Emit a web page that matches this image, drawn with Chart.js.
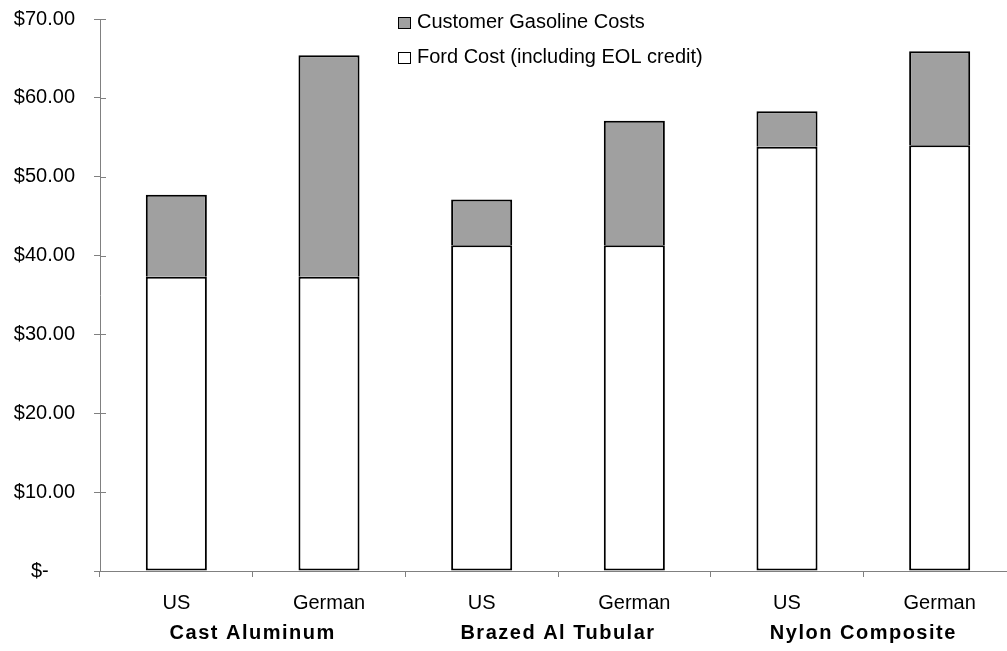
<!DOCTYPE html>
<html>
<head>
<meta charset="utf-8">
<script src="https://cdn.jsdelivr.net/npm/chart.js@4.4.1/dist/chart.umd.min.js"></script>
<style>
  html, body { margin: 0; padding: 0; background: #fff; overflow: hidden; }
  #wrap { position: relative; width: 1020px; height: 651px; }
</style>
</head>
<body>
<div id="wrap"><canvas id="c"></canvas></div>
<script>
// ---- data ----
const categories = ['US', 'German', 'US', 'German', 'US', 'German'];
const groups = ['Cast Aluminum', 'Brazed Al Tubular', 'Nylon Composite'];
const fordCost = [37.3, 37.3, 41.3, 41.3, 53.8, 54.0];
const gasolineCost = [10.4, 28.1, 5.8, 15.8, 4.5, 11.9];
const seriesNames = ['Ford Cost (including EOL credit)', 'Customer Gasoline Costs'];
const yMin = 0, yMax = 70, yStep = 10;

const FONT = "'Liberation Sans', Arial, sans-serif";
const AXIS = '#808080';

const extras = {
  id: 'extras',
  afterDraw(chart) {
    const ctx = chart.ctx;
    const x = chart.scales.x, y = chart.scales.y;
    ctx.save();
    // inner y tick stubs
    ctx.strokeStyle = AXIS;
    ctx.lineWidth = 1;
    y.ticks.forEach(t => {
      const py = Math.round(y.getPixelForValue(t.value)) + 0.5;
      ctx.beginPath();
      ctx.moveTo(x.left, py);
      ctx.lineTo(x.left + 6, py);
      ctx.stroke();
    });
    // group labels
    ctx.fillStyle = '#000';
    ctx.font = 'bold 20px ' + FONT;
    ctx.textAlign = 'center';
    ctx.textBaseline = 'alphabetic';
    try { ctx.letterSpacing = '1.5px'; } catch (e) {}
    groups.forEach((g, i) => {
      const cx = (x.getPixelForValue(2 * i) + x.getPixelForValue(2 * i + 1)) / 2;
      ctx.fillText(g, cx, 639);
    });
    try { ctx.letterSpacing = '0px'; } catch (e) {}
    // legend
    const items = [
      { label: seriesNames[1], fill: '#A0A0A0' },
      { label: seriesNames[0], fill: '#FFFFFF' }
    ];
    ctx.font = '20px ' + FONT;
    ctx.textAlign = 'left';
    items.forEach((it, i) => {
      const ty = 28 + i * 35;
      ctx.fillStyle = it.fill;
      ctx.fillRect(398.5, ty - 10.5, 12, 11);
      ctx.strokeStyle = '#000';
      ctx.lineWidth = 1;
      ctx.strokeRect(398.5, ty - 10.5, 12, 11);
      ctx.fillStyle = '#000';
      ctx.fillText(it.label, 417, ty);
    });
    ctx.restore();
  }
};

new Chart(document.getElementById('c'), {
  type: 'bar',
  data: {
    labels: categories,
    datasets: [
      {
        label: seriesNames[0],
        data: fordCost,
        backgroundColor: '#FFFFFF',
        borderColor: '#000000',
        borderWidth: 2,
        borderSkipped: false,
        stack: 's'
      },
      {
        label: seriesNames[1],
        data: gasolineCost,
        backgroundColor: '#A0A0A0',
        borderColor: '#000000',
        borderWidth: { top: 2, left: 2, right: 2, bottom: 0 },
        borderSkipped: false,
        stack: 's'
      }
    ]
  },
  options: {
    responsive: true,
    maintainAspectRatio: false,
    animation: false,
    devicePixelRatio: 1,
    layout: { padding: { top: 19, right: 4, left: 0, bottom: 0 } },
    plugins: { legend: { display: false }, tooltip: { enabled: false } },
    datasets: { bar: { categoryPercentage: 1.0, barPercentage: 0.4 } },
    scales: {
      x: {
        stacked: true,
        offset: true,
        grid: { display: true, drawOnChartArea: false, drawTicks: true, tickLength: 6, color: AXIS, offset: true },
        border: { display: true, color: AXIS, width: 1 },
        ticks: { color: '#000', font: { family: FONT, size: 20 }, padding: 14, maxRotation: 0, autoSkip: false },
        afterFit(s) { s.height = 80; s.paddingLeft = 0; s.paddingRight = 0; }
      },
      y: {
        stacked: true,
        min: yMin, max: yMax,
        grid: { display: true, drawOnChartArea: false, drawTicks: true, tickLength: 6, color: AXIS },
        border: { display: true, color: AXIS, width: 1 },
        ticks: {
          stepSize: yStep,
          color: '#000',
          font: { family: FONT, size: 20 },
          padding: 19,
          callback: v => v === 0 ? '$-    \u2009' : '$' + Number(v).toFixed(2)
        },
        afterFit(s) { s.width = 100; s.paddingTop = 0; s.paddingBottom = 0; }
      }
    }
  },
  plugins: [extras]
});
</script>
</body>
</html>
